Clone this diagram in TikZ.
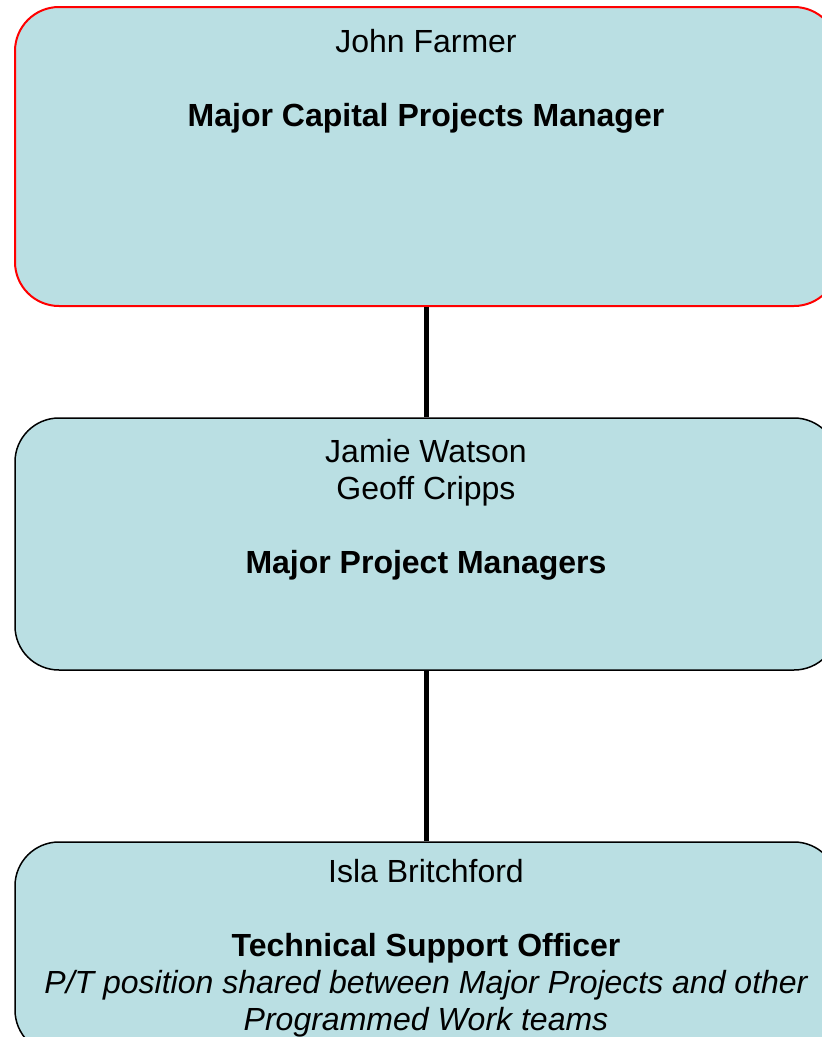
\documentclass[tikz,border=0pt]{standalone}
\usepackage{fontspec}
\setmainfont{Liberation Sans}
\definecolor{boxfill}{RGB}{186,223,227}
\definecolor{boxred}{RGB}{255,0,0}
\begin{document}
\begin{tikzpicture}[x=1pt,y=-1pt,
  orgbox/.style={draw=black,line width=1.5pt,fill=boxfill,rounded corners=44pt,
    rectangle,inner sep=0pt,minimum width=823pt},
  txt/.style={anchor=base,inner sep=0pt,font=\fontsize{32}{37}\selectfont},
  btxt/.style={txt,font=\fontsize{32}{37}\selectfont\bfseries},
  itxt/.style={txt,font=\fontsize{32}{37}\selectfont\itshape},
  link/.style={line width=5.5pt,black}]
\useasboundingbox (0,0) rectangle (822,1037);

% boxes
\node[orgbox,draw=boxred,line width=2pt,minimum height=299pt] (top) at (426.5,156.5) {};
\node[orgbox,minimum height=252pt] (mid) at (426.5,544) {};
\node[orgbox,minimum height=212pt] (low) at (426.5,948) {};

% connectors
\draw[link] (top.south) -- (mid.north);
\draw[link] (mid.south) -- (low.north);

% texts
\node[txt]  (jf)  at (426,52)  {John Farmer};
\node[btxt] (mcp) at (426,126) {Major Capital Projects Manager};

\node[txt]  (jw)  at (426,462) {Jamie Watson};
\node[txt]  (gc)  at (426,499) {Geoff Cripps};
\node[btxt] (mpm) at (426,573) {Major Project Managers};

\node[txt]  (ib)  at (426,882) {Isla Britchford};
\node[btxt] (tso) at (426,956) {Technical Support Officer};
\node[itxt] (pt1) at (426,993) {P/T position shared between Major Projects and other};
\node[itxt] (pt2) at (426,1030) {Programmed Work teams};
\end{tikzpicture}
\end{document}
